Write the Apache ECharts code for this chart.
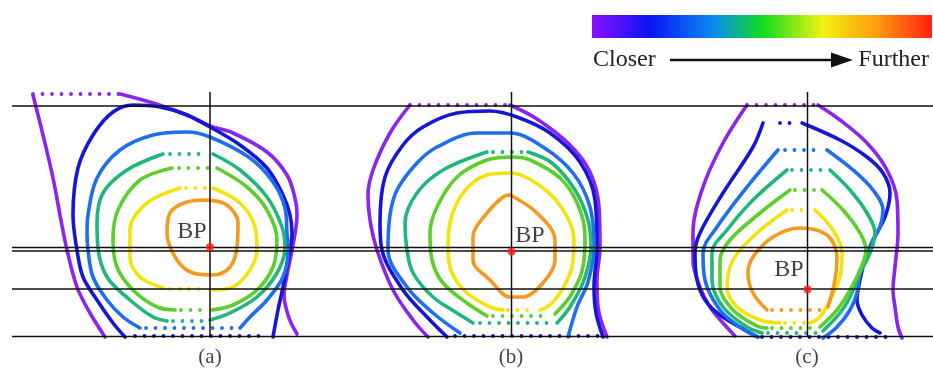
<!DOCTYPE html>
<html><head><meta charset="utf-8">
<script src="https://cdn.jsdelivr.net/npm/echarts@6/dist/echarts.min.js"></script>
<style>html,body{margin:0;padding:0;background:#fff}#c{width:933px;height:374px}</style>
</head><body><div id="c"></div>
<script>
// ---------- reference lines & markers ----------
const hLineY = [106, 247.5, 251, 289, 336.5];
const hLineX = [12, 933];
const vLineX = [210, 511.5, 807.5];
const vLineY = [92, 337];
const bpPoints = [[210, 247], [511.5, 251.5], [807.5, 289.5]];
const bpLabelPoints = [[192, 232], [530, 236], [789, 270]];
const panelLabels = ['(a)', '(b)', '(c)'];
const panelLabelPoints = [[210, 357], [511, 357], [807, 357]];

// ---------- panel (a) ----------
const aPurpleSolid = [
  [[33,95],[43,135],[53,178],[60,215],[67,250],[77,287],[90,313],[105,337]],
  [[120,94],[153,103],[187,115],[210,126],[233,133],[267,152],[287,175],[295,198],[297,215],[293,245],[287,275],[284,295],[289,318],[297,334]]
];
const aPurpleDots = [[[33,94],[120,94]]];
const aDarkBlueSolid = [
  [[125,337],[113,323],[97,300],[83,277],[77,250],[73,215],[78,168],[93,135],[113,112],[133,105],[160,107],[187,115],[210,127],[240,145],[267,168],[283,195],[290,215],[292,233],[288,260],[283,287],[278,310],[273,337]]
];
const aDarkBlueDots = [[[135,336],[268,336]]];
const aBlueSolid = [
  [[140,328],[123,317],[107,300],[93,277],[88,250],[87,233],[88,215],[97,178],[120,150],[153,135],[187,132],[210,137],[250,158],[273,182],[285,208],[287,233],[288,250],[283,277],[267,300],[250,317],[240,328]]
];
const aBlueDots = [[[146,328],[232,328]]];
const aTealSolid = [
  [[167,321],[153,317],[130,300],[107,277],[98,248],[97,223],[103,193],[127,170],[163,154]],
  [[213,154],[240,170],[267,197],[282,227],[285,248],[277,273],[257,297],[230,313],[210,320]]
];
const aTealDots = [[[170,154],[207,154]], [[173,321],[205,321]]];
const aGreenSolid = [
  [[175,310],[157,307],[133,290],[117,267],[113,240],[118,210],[140,180],[172,168]],
  [[217,168],[247,187],[267,210],[277,240],[273,267],[257,290],[233,305],[212,310]]
];
const aGreenDots = [[[179,168],[210,168]], [[181,310],[207,310]]];
const aYellowSolid = [
  [[163,288],[140,277],[130,257],[130,230],[147,203],[180,188]],
  [[213,188],[240,203],[255,227],[257,250],[250,270],[233,287],[213,290]]
];
const aYellowDots = [[[186,188],[207,188]], [[170,289],[207,289]]];
const aOrangeSolid = [
  [[207,200],[227,205],[238,223],[237,247],[230,267],[213,275],[193,273],[177,260],[167,233],[170,213],[187,202],[207,200]]
];

// ---------- panel (b) ----------
const bPurpleSolid = [
  [[410,105],[390,133],[373,170],[368,195],[370,220],[377,250],[393,290],[413,320],[428,337]],
  [[510,105],[537,119],[570,145],[590,172],[599,207],[600,247],[597,280],[598,307],[607,337]]
];
const bPurpleDots = [[[410,105],[510,105]]];
const bDarkBlueSolid = [
  [[447,337],[427,317],[403,290],[382,250],[380,223],[385,177],[403,145],[423,127],[457,113],[490,111],[517,117],[550,133],[580,162],[595,200],[597,247],[594,287],[596,313],[603,337]]
];
const bDarkBlueDots = [[[455,336],[598,336]]];
const bBlueSolid = [
  [[460,333],[433,313],[407,287],[388,250],[390,215],[397,190],[417,163],[437,147],[477,133],[510,133],[543,147],[573,173],[590,207],[594,247],[588,282],[577,307],[568,337]]
];
const bTealSolid = [
  [[473,323],[457,313],[433,297],[413,273],[407,250],[405,223],[417,193],[443,170],[487,152]],
  [[528,152],[552,163],[575,190],[588,220],[591,247],[584,280],[570,307],[557,323]]
];
const bTealDots = [[[493,152],[522,152]], [[480,323],[552,323]]];
const bGreenSolid = [
  [[487,316],[467,303],[443,283],[432,260],[430,233],[437,207],[457,177],[487,160],[513,157],[530,160],[560,178],[578,205],[585,237],[583,267],[571,295],[555,314]]
];
const bGreenDots = [[[493,316],[550,316]]];
const bYellowSolid = [
  [[503,310],[490,307],[467,293],[452,273],[448,250],[450,223],[463,193],[487,175],[510,173],[543,188],[565,213],[574,240],[572,267],[562,290],[550,305],[540,310]]
];
const bYellowDots = [[[508,310],[536,310]]];
const bOrangeSolid = [
  [[510,195],[537,213],[555,240],[555,260],[543,283],[523,297],[510,297],[490,280],[473,260],[473,237],[487,213],[503,197],[510,195]]
];

// ---------- panel (c) ----------
const cPurpleSolid = [
  [[747,105],[723,143],[703,187],[693,233],[693,260],[700,287],[710,307],[723,323],[735,336]],
  [[818,105],[840,120],[867,143],[887,170],[897,200],[898,233],[895,267],[893,290],[895,307],[898,327],[902,338]]
];
const cPurpleDots = [[[747,105],[818,105]]];
const cDarkBlueSolid = [
  [[763,123],[753,147],[723,193],[700,233],[695,253],[697,280],[705,300],[720,315],[745,330],[758,337]],
  [[802,123],[840,140],[867,157],[883,173],[890,193],[885,217],[873,240],[865,260],[860,280],[857,300],[862,315],[872,328],[880,333]]
];
const cDarkBlueDots = [[[780,123],[795,123]], [[762,337],[890,337]]];
const cBlueSolid = [
  [[757,337],[740,327],[720,310],[705,280],[703,253],[717,227],[747,187],[778,150]],
  [[827,150],[853,170],[873,190],[883,210],[880,227],[873,240],[867,253],[860,273],[857,293],[850,310],[837,327],[823,338]]
];
const cBlueDots = [[[785,150],[822,150]]];
const cTealSolid = [
  [[762,333],[747,327],[723,307],[712,280],[712,253],[727,230],[753,200],[787,170]],
  [[830,170],[850,190],[867,213],[875,233],[870,253],[860,273],[850,297],[840,313],[823,331]]
];
const cTealDots = [[[792,170],[826,170]], [[768,333],[818,333]]];
const cGreenSolid = [
  [[767,328],[757,326],[733,310],[720,287],[720,260],[730,240],[760,213],[790,190]],
  [[822,190],[843,210],[860,233],[866,250],[860,270],[850,290],[837,310],[820,327]]
];
const cGreenDots = [[[795,190],[818,190]], [[772,328],[815,328]]];
const cYellowSolid = [
  [[780,323],[760,320],[737,307],[727,287],[733,260],[757,233],[787,210]],
  [[815,210],[833,230],[842,253],[840,277],[830,300],[820,317],[810,323]]
];
const cYellowDots = [[[792,210],[811,210]], [[785,323],[806,323]]];
const cOrangeSolid = [
  [[767,310],[753,293],[748,273],[753,257],[773,237],[800,228],[827,235],[837,257],[835,280],[828,307]]
];
const cOrangeDots = [[[772,310],[823,310]]];

// ---------- colorbar ----------
const barStops = [0, 0.17, 0.36, 0.5, 0.68, 0.83, 1];
const barColors = ['#8a10ff', '#0a14f5', '#0a8cf0', '#10dc20', '#f2f210', '#ffa010', '#ff2010'];
const legendLeft = 'Closer', legendRight = 'Further';

const C = {
  purple: '#8b24ee', darkBlue: '#1616d6', blue: '#1e6ef0', teal: '#20b878',
  green: '#5ccf2c', yellow: '#f2e40c', orange: '#f59a1e'
};

const series = [];
function addSolid(segs, color) {
  segs.forEach(s => series.push({
    type: 'line', data: s, showSymbol: false, smooth: 0.35, silent: true, z: 2,
    lineStyle: { color: color, width: 3.6, cap: 'round', join: 'round' }
  }));
}
function addDots(segs, color) {
  segs.forEach(s => series.push({
    type: 'line', data: s, showSymbol: false, smooth: false, silent: true, z: 2,
    lineStyle: { color: color, width: 3.8, cap: 'round', type: [0, 9.5] }
  }));
}
[
  [aPurpleSolid, aPurpleDots, C.purple], [aDarkBlueSolid, aDarkBlueDots, C.darkBlue],
  [aBlueSolid, aBlueDots, C.blue], [aTealSolid, aTealDots, C.teal],
  [aGreenSolid, aGreenDots, C.green], [aYellowSolid, aYellowDots, C.yellow],
  [aOrangeSolid, [], C.orange],
  [bPurpleSolid, bPurpleDots, C.purple], [bDarkBlueSolid, bDarkBlueDots, C.darkBlue],
  [bBlueSolid, [], C.blue], [bTealSolid, bTealDots, C.teal],
  [bGreenSolid, bGreenDots, C.green], [bYellowSolid, bYellowDots, C.yellow],
  [bOrangeSolid, [], C.orange],
  [cPurpleSolid, cPurpleDots, C.purple], [cDarkBlueSolid, cDarkBlueDots, C.darkBlue],
  [cBlueSolid, cBlueDots, C.blue], [cTealSolid, cTealDots, C.teal],
  [cGreenSolid, cGreenDots, C.green], [cYellowSolid, cYellowDots, C.yellow],
  [cOrangeSolid, cOrangeDots, C.orange]
].forEach(([s, d, col]) => { addSolid(s, col); addDots(d, col); });

hLineY.forEach(y => series.push({
  type: 'line', data: hLineX.map(x => [x, y]), showSymbol: false, silent: true, z: 5,
  lineStyle: { color: '#111', width: 1.5 }
}));
vLineX.forEach(x => series.push({
  type: 'line', data: vLineY.map(y => [x, y]), showSymbol: false, silent: true, z: 5,
  lineStyle: { color: '#111', width: 1.5 }
}));
series.push({
  type: 'scatter', data: bpLabelPoints, symbolSize: 0, silent: true, z: 6,
  label: { show: true, position: 'inside', formatter: 'BP', fontSize: 24,
    fontFamily: 'Liberation Serif', color: '#111' }
});
series.push({
  type: 'scatter', data: bpPoints, symbolSize: 8, silent: true, z: 7,
  itemStyle: { color: '#ff1a1a' }
});
series.push({
  type: 'scatter', data: panelLabelPoints.map((p, i) => ({ value: p, name: panelLabels[i] })),
  symbolSize: 0, silent: true, z: 6,
  label: { show: true, position: 'inside', formatter: p => p.name, fontSize: 21,
    fontFamily: 'Liberation Serif', color: '#111' }
});

const chart = echarts.init(document.getElementById('c'), null, { renderer: 'canvas' });
chart.setOption({
  animation: false,
  backgroundColor: '#fff',
  grid: { left: 0, right: 0, top: 0, bottom: 0 },
  xAxis: { type: 'value', min: 0, max: 933, show: false },
  yAxis: { type: 'value', min: 0, max: 374, inverse: true, show: false },
  series: series,
  graphic: [
    { type: 'rect', shape: { x: 592, y: 15, width: 340, height: 23 },
      style: { fill: new echarts.graphic.LinearGradient(0, 0, 1, 0,
        barStops.map((o, i) => ({ offset: o, color: barColors[i] }))) } },
    { type: 'text', x: 593, y: 60,
      style: { text: legendLeft, fontSize: 24, fontFamily: 'Liberation Serif', fill: '#222',
        align: 'left', verticalAlign: 'middle', textAlign: 'left', textVerticalAlign: 'middle' } },
    { type: 'text', x: 929, y: 60,
      style: { text: legendRight, fontSize: 24, fontFamily: 'Liberation Serif', fill: '#222',
        align: 'right', verticalAlign: 'middle', textAlign: 'right', textVerticalAlign: 'middle' } },
    { type: 'line', shape: { x1: 670, y1: 60, x2: 836, y2: 60 },
      style: { stroke: '#111', lineWidth: 2.5 } },
    { type: 'polygon', shape: { points: [[831, 52.5], [853, 60], [831, 67.5]] },
      style: { fill: '#111' } }
  ]
});
</script></body></html>
